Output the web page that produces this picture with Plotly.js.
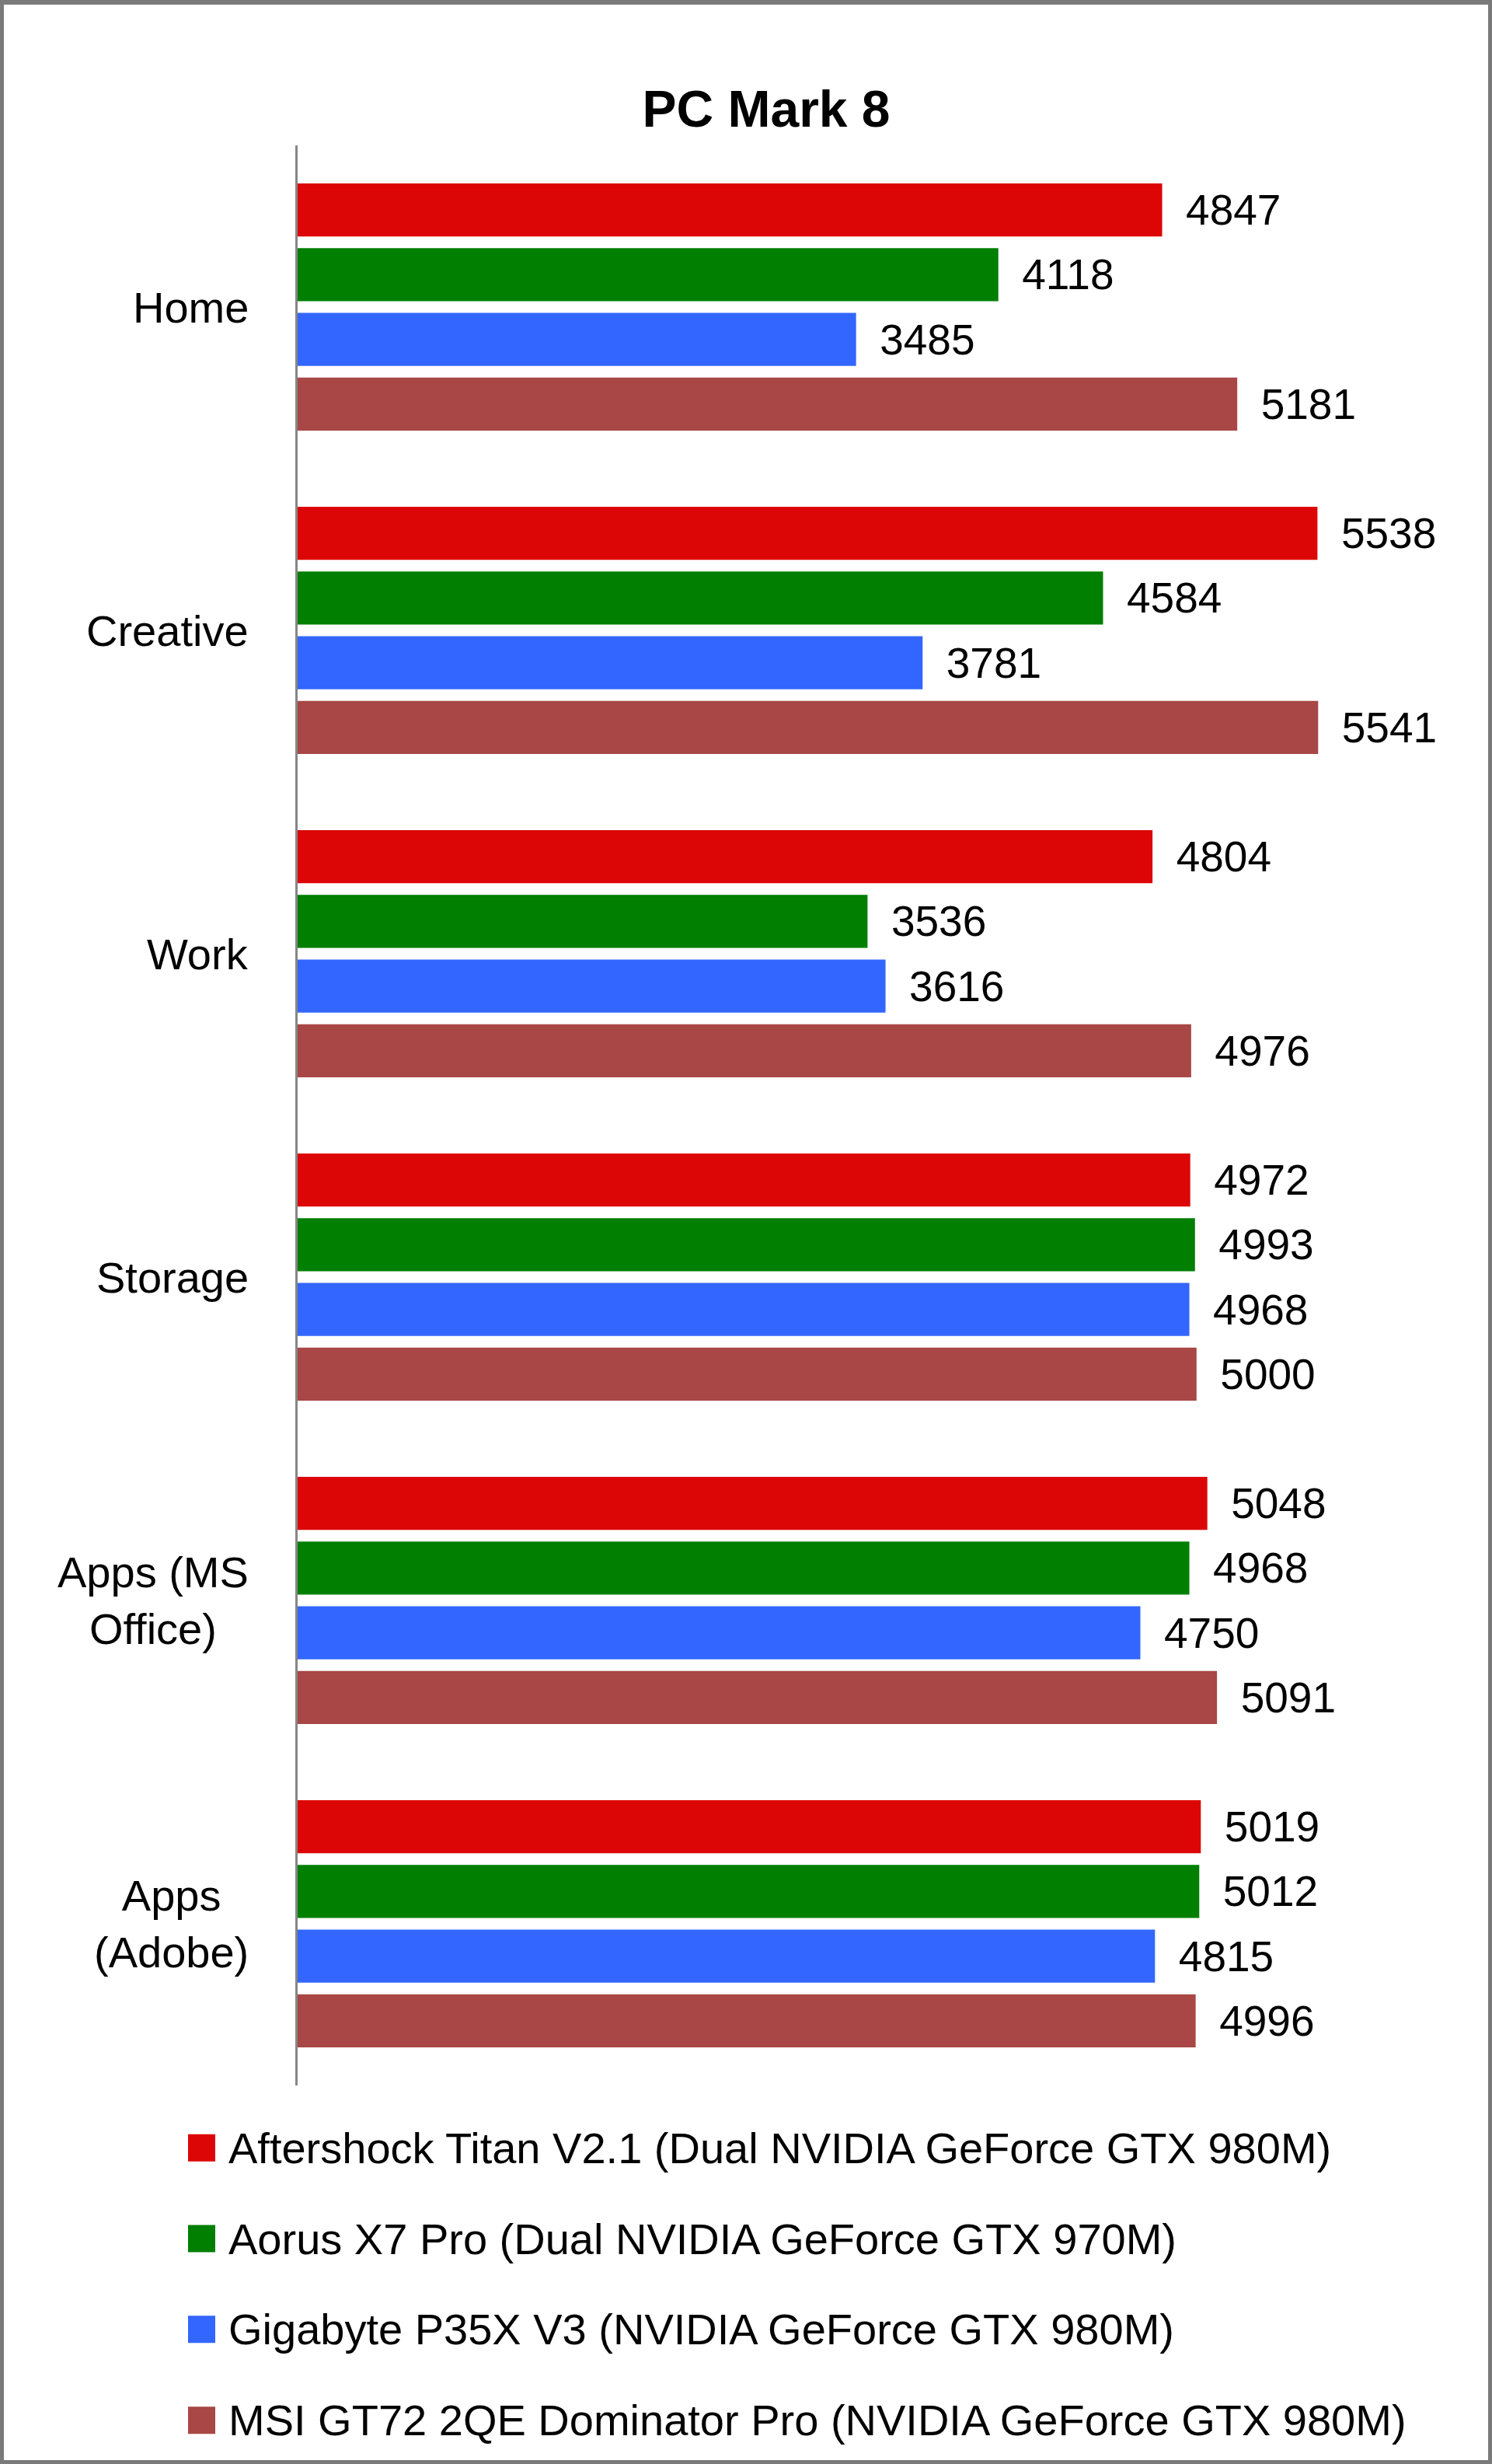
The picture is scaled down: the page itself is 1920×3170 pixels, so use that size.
<!DOCTYPE html>
<html>
<head>
<meta charset="utf-8">
<script src="https://cdn.plot.ly/plotly-3.0.1.min.js"></script>
<style>
  html, body { margin: 0; padding: 0; background: #fff; }
  #wrap { position: relative; width: 1920px; height: 3170px; }
  #chart { position: absolute; left: 0; top: 0; width: 1920px; height: 3170px; }
  #frame { position: absolute; left: 0; top: 0; width: 1920px; height: 3170px; box-sizing: border-box;
           border: 5px solid #7a7a7a; border-top-width: 6px; pointer-events: none; }
</style>
</head>
<body>
<div id="wrap">
  <div id="chart"></div>
  <div id="frame"></div>
</div>
<script>
// ---- data ----
const categories = ['Home', 'Creative', 'Work', 'Storage', 'Apps (MS Office)', 'Apps (Adobe)'];
const categoryLabels = ['Home', 'Creative', 'Work', 'Storage', 'Apps (MS<br>Office)', 'Apps<br>(Adobe)'];
const seriesNames = [
  'Aftershock Titan V2.1 (Dual NVIDIA GeForce GTX 980M)',
  'Aorus X7 Pro (Dual NVIDIA GeForce GTX 970M)',
  'Gigabyte P35X V3 (NVIDIA GeForce GTX 980M)',
  'MSI GT72 2QE Dominator Pro (NVIDIA GeForce GTX 980M)'
];
const aftershock = [4847, 5538, 4804, 4972, 5048, 5019];
const aorus      = [4118, 4584, 3536, 4993, 4968, 5012];
const gigabyte   = [3485, 3781, 3616, 4968, 4750, 4815];
const msi        = [5181, 5541, 4976, 5000, 5091, 4996];
const seriesValues = [aftershock, aorus, gigabyte, msi];
const seriesColors = ['#DD0606', '#007F00', '#3366FF', '#A84745'];

const FONT = "'Liberation Sans', Arial, sans-serif";

const traces = seriesValues.map((vals, i) => ({
  type: 'bar',
  orientation: 'h',
  name: seriesNames[i],
  legendgroup: 'g' + i,
  x: vals,
  y: categories,
  marker: { color: seriesColors[i], line: { width: 0 } },
  text: vals.map(String),
  texttemplate: '\u2002%{text}',
  textposition: 'outside',
  constraintext: 'none',
  cliponaxis: false,
  outsidetextfont: { family: FONT, size: 55, color: '#000' },
  hoverinfo: 'x+name'
}));

const annotations = categories.map((c, i) => ({
  xref: 'paper', yref: 'y',
  x: 0, y: c,
  xanchor: 'right', yanchor: 'middle',
  xshift: -61,
  align: 'center',
  showarrow: false,
  text: categoryLabels[i],
  font: { family: FONT, size: 56, color: '#000' }
}));

const layout = {
  width: 1920,
  height: 3170,
  paper_bgcolor: '#fff',
  plot_bgcolor: '#fff',
  margin: { l: 383, r: 91, t: 187, b: 487, pad: 0, autoexpand: false },
  title: {
    text: '<b>PC Mark 8</b>',
    font: { family: FONT, size: 66, color: '#000' },
    xref: 'container', yref: 'container',
    x: 986 / 1920, xanchor: 'center',
    y: 1 - 140 / 3170, yanchor: 'middle',
    automargin: false
  },
  barmode: 'group',
  bargap: 0.2,
  bargroupgap: 0.18,
  xaxis: {
    range: [1000, 6000],
    visible: false,
    showgrid: false,
    zeroline: false,
    fixedrange: true,
    automargin: false
  },
  yaxis: {
    type: 'category',
    range: [5.5, -0.5],
    showticklabels: false,
    ticks: '',
    showgrid: false,
    zeroline: false,
    showline: true,
    linecolor: '#868686',
    linewidth: 3,
    fixedrange: true,
    automargin: false
  },
  showlegend: true,
  legend: {
    xref: 'container', yref: 'container',
    x: 224 / 1920, xanchor: 'left',
    y: 1 - 2718 / 3170, yanchor: 'top',
    orientation: 'v',
    traceorder: 'grouped',
    tracegroupgap: 41,
    itemwidth: 60,
    bgcolor: 'rgba(0,0,0,0)',
    borderwidth: 0,
    font: { family: FONT, size: 56, color: '#000' }
  },
  annotations: annotations
};

Plotly.newPlot('chart', traces, layout, { displayModeBar: false, staticPlot: true }).then(() => {
  const root = document.getElementById('chart');
  root.querySelectorAll('.legend [clip-path]').forEach(e => e.removeAttribute('clip-path'));
  root.querySelectorAll('.legend .traces').forEach(item => {
    const txt = item.querySelector('text.legendtext');
    const p = item.querySelector('.legendpoints path');
    if (!txt || !p) return;
    const SIDE = 35, GAP = 17;
    p.removeAttribute('transform');
    p.setAttribute('d', 'M0,0H' + SIDE + 'V' + SIDE + 'H0Z');
    p.style.strokeWidth = '0';
    const tb = txt.getBoundingClientRect();
    const pb = p.getBoundingClientRect();
    const dx = (tb.left - GAP - SIDE) - pb.left;
    const dy = (tb.top + tb.height / 2 - SIDE / 2) - pb.top;
    p.setAttribute('transform', 'translate(' + dx + ',' + dy + ')');
  });
});
</script>
</body>
</html>
